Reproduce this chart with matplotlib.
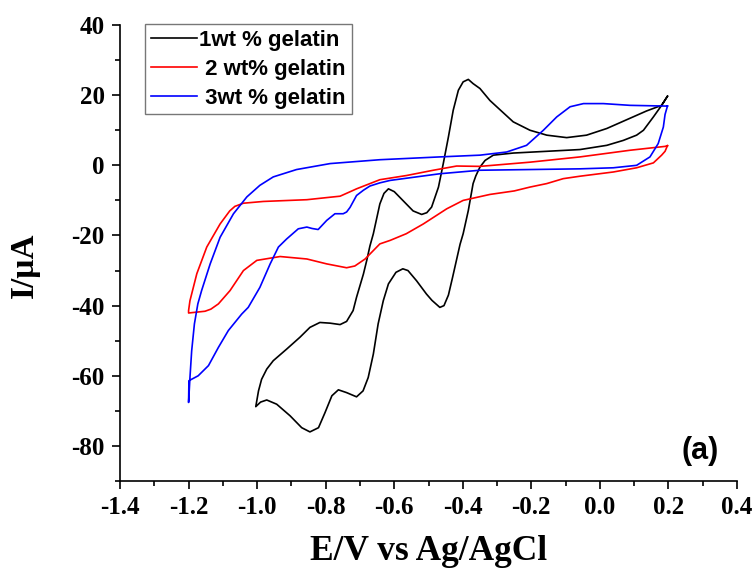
#
# Cyclic voltammograms for three gelatin loadings (panel a)
#
import matplotlib
matplotlib.use('Agg')
import matplotlib.pyplot as plt
from matplotlib.ticker import MultipleLocator

plt.rcParams['axes.unicode_minus'] = False

# 1 wt% gelatin: cathodic sweep from +0.2 V down to -1.0 V, then back (E in V, I in uA)
e_1wt = [0.197, 0.18, 0.156, 0.127, 0.107, 0.068, 0.02, -0.058, -0.155, -0.253,
         -0.311, -0.335, -0.35, -0.362, -0.37, -0.384, -0.399, -0.408, -0.43,
         -0.442, -0.455, -0.467, -0.49, -0.506, -0.535, -0.56, -0.575, -0.595,
         -0.617, -0.632, -0.647, -0.661, -0.676, -0.691, -0.71, -0.739, -0.763,
         -0.782, -0.802, -0.821, -0.846, -0.87, -0.904, -0.943, -0.972, -0.99,
         -1.004,
         -0.996, -0.987, -0.972, -0.953, -0.914, -0.875, -0.846, -0.817, -0.787,
         -0.758, -0.739, -0.72, -0.71, -0.7, -0.69, -0.68, -0.671, -0.661,
         -0.642, -0.63, -0.617, -0.6, -0.57, -0.545, -0.52, -0.505, -0.491,
         -0.471, -0.457, -0.442, -0.428, -0.413, -0.399, -0.384, -0.37, -0.35,
         -0.321, -0.301, -0.253, -0.204, -0.155, -0.097, -0.039, 0.02, 0.078,
         0.136, 0.18, 0.197]
i_1wt = [19.7, 17.1, 13.8, 10.0, 8.6, 7.1, 5.7, 4.5, 4.0, 3.5,
         2.9, 1.4, -0.5, -3.0, -5.2, -12.9, -19.5, -22.5, -32.0,
         -37.0, -40.0, -40.5, -38.5, -36.7, -32.9, -30.0, -29.5, -30.5,
         -33.8, -38.6, -45.2, -53.8, -60.5, -64.3, -66.0, -64.8, -64.0,
         -65.7, -70.5, -74.8, -76.0, -74.8, -71.4, -68.1, -66.9, -67.5,
         -68.8,
         -64.3, -61.0, -58.1, -55.7, -52.4, -49.0, -46.2, -44.8, -45.0,
         -45.4, -44.5, -41.4, -37.6, -34.3, -31.0, -27.0, -23.0, -19.5,
         -11.0, -8.0, -6.7, -7.5, -10.5, -13.0, -14.0, -13.5, -11.9,
         -6.2, 0.5, 8.1, 15.7, 21.4, 23.8, 24.5, 23.3, 21.9,
         18.5, 16.7, 12.4, 10.0, 8.6, 7.9, 8.6, 10.5, 13.0,
         15.5, 17.1, 19.7]

# 2 wt% gelatin
e_2wt = [0.197, 0.19, 0.18, 0.156, 0.107, 0.039, -0.058, -0.107, -0.155, -0.204,
         -0.25, -0.321, -0.399, -0.447, -0.515, -0.565, -0.612, -0.642, -0.685,
         -0.715, -0.739, -0.797, -0.855, -0.933, -1.001, -1.04, -1.079, -1.113,
         -1.135, -1.152, -1.2,
         -1.2, -1.196, -1.176, -1.147, -1.108, -1.08, -1.065, -1.04, -0.982,
         -0.855, -0.778, -0.758, -0.719, -0.71, -0.642, -0.564, -0.486, -0.418,
         -0.35, -0.204, -0.058, 0.088, 0.19, 0.197]
i_2wt = [5.6, 4.0, 2.9, 0.7, -0.7, -1.9, -3.1, -3.8, -5.2, -6.2,
         -7.3, -8.3, -10.0, -12.4, -16.7, -19.5, -21.4, -22.4, -26.7,
         -28.7, -29.2, -28.1, -26.7, -26.0, -27.1, -30.0, -35.7, -39.5,
         -41.0, -41.6, -42.1,
         -41.4, -38.6, -30.9, -23.3, -16.7, -13.0, -11.7, -10.8, -10.3,
         -9.8, -9.0, -8.8, -7.1, -6.7, -4.1, -2.9, -1.4, -0.2,
         -0.3, 0.9, 2.4, 4.3, 5.4, 5.6]

# 3 wt% gelatin
e_3wt = [0.197, 0.19, 0.185, 0.17, 0.146, 0.107, 0.039, -0.058, -0.204, -0.35,
         -0.467, -0.612, -0.642, -0.671, -0.69, -0.71, -0.729, -0.739, -0.749,
         -0.773, -0.797, -0.822, -0.84, -0.855, -0.88, -0.914, -0.938, -0.962,
         -0.992, -1.026, -1.045, -1.084, -1.113, -1.142, -1.172, -1.199,
         -1.2, -1.196, -1.191, -1.183, -1.173, -1.162, -1.137, -1.108, -1.069,
         -1.03, -0.992, -0.953, -0.885, -0.787, -0.642, -0.467, -0.35, -0.272,
         -0.214, -0.165, -0.126, -0.087, -0.048, 0.01, 0.088, 0.19, 0.197]
i_3wt = [16.9, 14.5, 10.9, 6.2, 2.4, 0.0, -0.7, -1.0, -1.2, -1.4,
         -2.4, -4.3, -5.0, -5.9, -7.1, -8.6, -12.0, -13.3, -13.8,
         -13.8, -15.7, -18.3, -18.0, -17.6, -18.1, -21.0, -23.3, -28.1,
         -34.8, -40.5, -42.4, -47.1, -51.9, -57.1, -60.0, -61.4,
         -67.6, -60.5, -52.9, -45.2, -39.5, -35.7, -28.1, -20.5, -13.8,
         -9.0, -5.7, -3.3, -1.2, 0.5, 1.6, 2.4, 2.9, 3.8,
         5.7, 10.0, 13.8, 16.7, 17.6, 17.6, 17.1, 16.9, 16.9]

labels = ['1wt % gelatin', ' 2 wt% gelatin', ' 3wt % gelatin']

serif = 'Liberation Serif'
sans = 'Liberation Sans'

fig = plt.figure(figsize=(7.53, 5.74), dpi=100)
ax = fig.add_axes([0.1594, 0.162, 0.8194, 0.7944])

ax.plot(e_1wt, i_1wt, color='black', lw=1.2, label=labels[0])
ax.plot(e_2wt, i_2wt, color='red', lw=1.2, label=labels[1])
ax.plot(e_3wt, i_3wt, color='blue', lw=1.2, label=labels[2])

ax.set_xlim(-1.4, 0.4)
ax.set_ylim(-90, 40)
ax.xaxis.set_major_locator(MultipleLocator(0.2))
ax.xaxis.set_minor_locator(MultipleLocator(0.1))
ax.yaxis.set_major_locator(MultipleLocator(20))
ax.yaxis.set_minor_locator(MultipleLocator(10))

for side in ['top', 'right']:
    ax.spines[side].set_visible(False)
for side in ['left', 'bottom']:
    ax.spines[side].set_linewidth(1.2)

ax.tick_params(which='major', direction='out', length=6, width=1.2)
ax.tick_params(which='minor', direction='out', length=3.5, width=1.2)
ax.tick_params(axis='both', labelsize=18, pad=5)
for lab in ax.get_xticklabels() + ax.get_yticklabels():
    lab.set_fontfamily(serif)
    lab.set_fontweight('bold')

ax.set_xlabel('E/V vs Ag/AgCl', fontsize=25.5, fontfamily=serif,
              fontweight='bold', labelpad=11)
ax.set_ylabel('I/\u03bcA', fontsize=24, fontfamily=serif, fontweight='bold')
ax.yaxis.set_label_coords(-0.13, 0.474)

leg = ax.legend(loc='upper left', bbox_to_anchor=(0.0405, 1.002),
                prop={'family': sans, 'weight': 'bold', 'size': 16},
                frameon=True, fancybox=False, handlelength=2.1,
                handletextpad=0.1, borderpad=0.25, labelspacing=0.36,
                borderaxespad=0.0)
leg.get_frame().set_edgecolor('#555555')
leg.get_frame().set_linewidth(1.0)

ax.text(0.292, -81.4, '(a)', fontsize=22, fontfamily=sans, fontweight='bold',
        ha='center', va='center')

fig.savefig('out.png', dpi=100)
